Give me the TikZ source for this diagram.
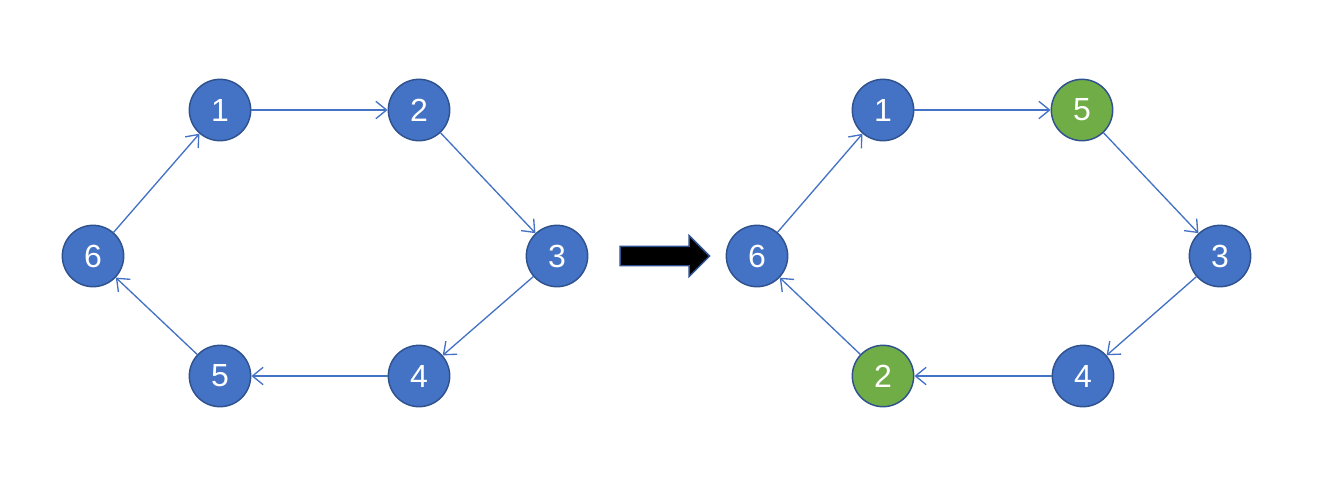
\documentclass[tikz,border=0pt]{standalone}
\usepackage{fontspec}
\setmainfont{Liberation Sans}
\usetikzlibrary{arrows.meta,shapes.arrows}
\definecolor{nblue}{HTML}{4472C4}
\definecolor{nborder}{HTML}{2F528F}
\definecolor{ngreen}{HTML}{70AD47}
\tikzset{
  vtx/.style={circle, draw=nborder, line width=1.1pt, fill=nblue, minimum size=46pt, inner sep=0pt, text=white, font=\fontsize{24}{24}\selectfont},
  gvtx/.style={vtx, fill=ngreen},
  edge/.style={draw=nblue, line width=1pt, -{Straight Barb[length=8pt,width=13pt,line width=1pt]}},
  bigarrow/.style={draw=nborder, fill=black, line width=1.1pt, single arrow, minimum height=67pt, inner xsep=0pt, inner ysep=6.75pt, single arrow head extend=8pt},
}
\begin{document}
\begin{tikzpicture}[x=0.75pt,y=-0.75pt]
\useasboundingbox (0,0) rectangle (1340,482);
% left graph
\node[vtx] (a1) at (220,110) {1};
\node[vtx] (a2) at (419,110) {2};
\node[vtx] (a3) at (557,256) {3};
\node[vtx] (a4) at (419,376) {4};
\node[vtx] (a5) at (220,376) {5};
\node[vtx] (a6) at (93,256) {6};
\draw[edge] (a1) -- (a2);
\draw[edge] (a2) -- (a3);
\draw[edge] (a3) -- (a4);
\draw[edge] (a4) -- (a5);
\draw[edge] (a5) -- (a6);
\draw[edge] (a6) -- (a1);
% big arrow
\node[bigarrow] (big) at (660,256) {};
% right graph
\node[vtx] (b1) at (883,110) {1};
\node[gvtx] (b5) at (1082,110) {5};
\node[vtx] (b3) at (1220,256) {3};
\node[vtx] (b4) at (1083,376) {4};
\node[gvtx] (b2) at (883,376) {2};
\node[vtx] (b6) at (757,256) {6};
\draw[edge] (b1) -- (b5);
\draw[edge] (b5) -- (b3);
\draw[edge] (b3) -- (b4);
\draw[edge] (b4) -- (b2);
\draw[edge] (b2) -- (b6);
\draw[edge] (b6) -- (b1);
\end{tikzpicture}
\end{document}
